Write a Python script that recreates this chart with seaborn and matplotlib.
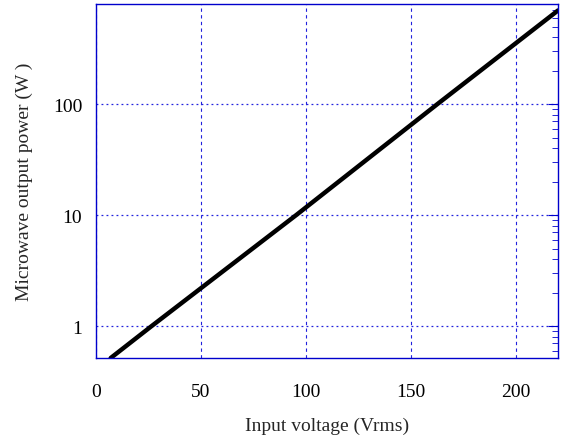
import matplotlib
matplotlib.use("Agg")
import matplotlib.pyplot as plt
import matplotlib.ticker as mticker
import seaborn as sns
import pandas as pd

# values
voltage = [7, 26.5, 95.3, 162.5, 220]
power = [0.515, 1.0, 10.0, 100.0, 700.0]

df = pd.DataFrame({"Input voltage (Vrms)": voltage, "Microwave output power (W )": power})

sns.set_style("white")
plt.rcParams['font.family'] = ['Liberation Serif', 'DejaVu Serif']

fig = plt.figure(figsize=(5.61, 4.39), dpi=100)
ax = fig.add_axes([0.1711, 0.1822, 0.8236, 0.8064])

sns.lineplot(data=df, x="Input voltage (Vrms)", y="Microwave output power (W )",
             ax=ax, color="black", linewidth=3.2)

ax.set_yscale("log")
ax.set_xlim(0, 220)
ax.set_ylim(0.515, 800)

ax.set_xticks([0, 50, 100, 150, 200])
ax.set_yticks([1, 10, 100])
ax.yaxis.set_major_formatter(mticker.FixedFormatter(["1", "10", "100"]))
ax.yaxis.set_minor_locator(mticker.LogLocator(base=10, subs=range(2, 10)))
ax.yaxis.set_minor_formatter(mticker.NullFormatter())

blue = "#0000cc"
for s in ax.spines.values():
    s.set_color(blue)
    s.set_linewidth(1.0)

ax.tick_params(axis="both", which="both", direction="in", color=blue,
               labelcolor="black", labelsize=14)
ax.tick_params(axis="y", which="major", length=7, right=True, pad=10)
ax.tick_params(axis="y", which="minor", length=4, right=True)
ax.tick_params(axis="x", which="major", length=0, pad=18)

ax.xaxis.grid(True, color="#2222dd", linestyle=(0, (3, 3)), linewidth=0.8)
ax.yaxis.grid(True, which="major", color="#2222dd", linestyle=(0, (1.5, 2.5)), linewidth=0.9)

ax.set_xlabel("Input voltage (Vrms)", fontsize=14, labelpad=12)
ax.set_ylabel("Microwave output power (W )", fontsize=14, labelpad=14)

fig.savefig("out.png", dpi=100)
